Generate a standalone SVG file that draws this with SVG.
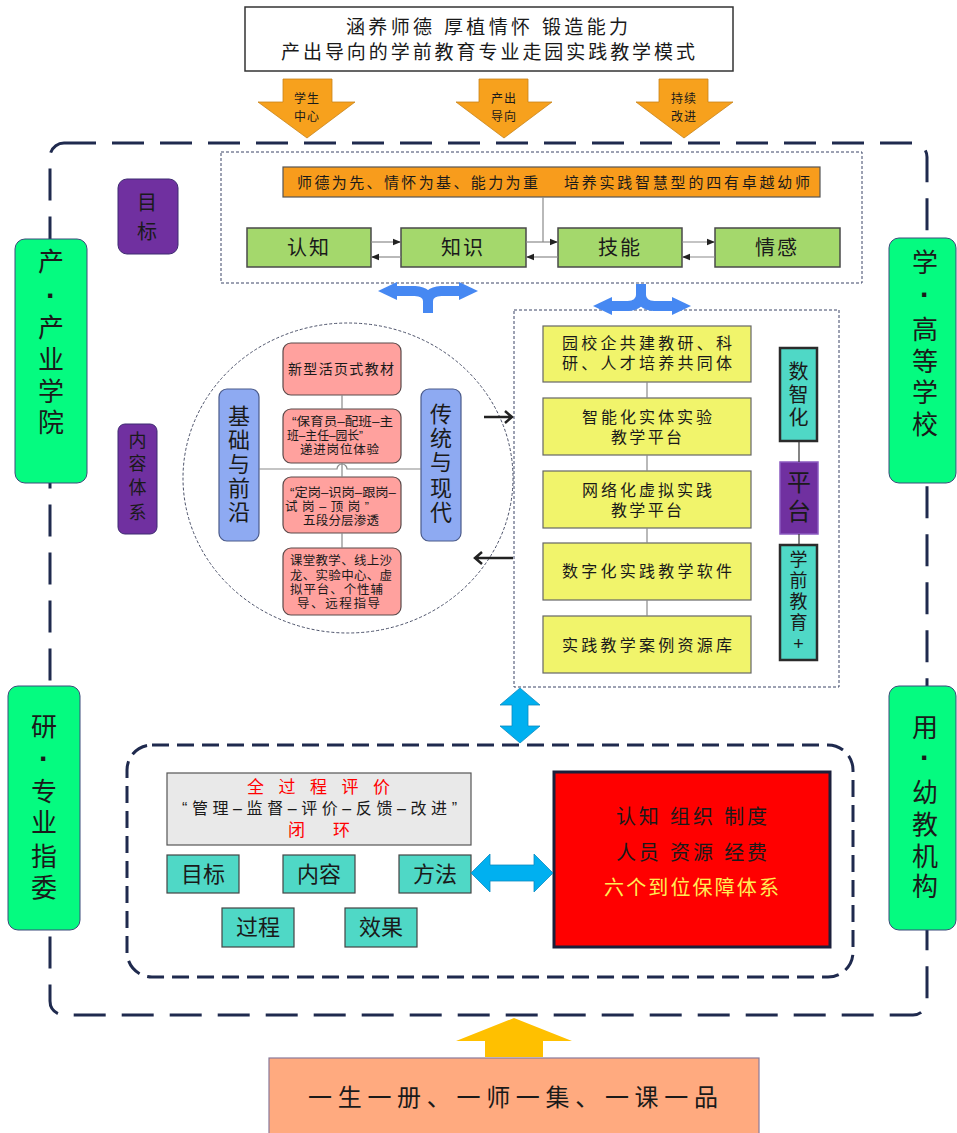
<svg xmlns="http://www.w3.org/2000/svg" width="957" height="1133" viewBox="0 0 957 1133">
<style>
text{font-family:"Liberation Sans","Noto Sans CJK SC",sans-serif;fill:#1a1a1a}
.dot{font-weight:bold;font-size:30px}
.big-dash{fill:none;stroke:#1f2a4e;stroke-width:3}
.fine-dash{fill:none;stroke:#3a4566;stroke-width:1;stroke-dasharray:3 2}
.down{fill:#f7a11d;stroke:#c8841a;stroke-width:0.8}
.green{fill:#a4d86c;stroke:#4a4a4a;stroke-width:1.5}
.pink{fill:#ffa19e;stroke:#5a4a4a;stroke-width:1.2}
.blueb{fill:#8eaaf2;stroke:#4a5a8a;stroke-width:1.2}
.yellow{fill:#f1f46b;stroke:#666;stroke-width:1.2}
.teal{fill:#4fd8c6;stroke:#444;stroke-width:1.2}
.tealb{fill:#4fd8c6;stroke:#2b2b2b;stroke-width:2.5}
.purple{fill:#7030a0;stroke:#3d2a70;stroke-width:1}
.side{fill:#05fb80;stroke:#3b4a7a;stroke-width:1}
.conn{fill:none;stroke:#8a8a8a;stroke-width:1.2}
.yarrow{fill:none;stroke:#4688f2;stroke-width:10}
.yhead{fill:#4688f2}
.cyan{fill:#00b0f0;stroke:#0a8cc0;stroke-width:0.8}
.blk{fill:none;stroke:#222;stroke-width:2.5}
</style>
<defs>
<marker id="ah" viewBox="0 0 10 10" refX="10" refY="5" markerWidth="7" markerHeight="7" orient="auto">
<path d="M0,1 L10,5 L0,9 z" fill="#222"/>
</marker>
</defs>

<!-- title -->
<g id="title">
<rect x="245" y="7" width="488" height="64" fill="#fff" stroke="#333" stroke-width="1.5"/>
<text x="346" y="34" font-size="19" textLength="282" lengthAdjust="spacing">涵养师德 厚植情怀 锻造能力</text>
<text x="281" y="59" font-size="19" textLength="414" lengthAdjust="spacing">产出导向的学前教育专业走园实践教学模式</text>
</g>

<g id="arrow-student">
<polygon class="down" points="283,79 332,79 332,102 355,102 307,138 258,102 283,102"/>
<text x="307" y="103" font-size="12" text-anchor="middle" letter-spacing="1">学生</text>
<text x="307" y="121" font-size="12" text-anchor="middle" letter-spacing="1">中心</text>
</g>
<g id="arrow-output">
<polygon class="down" points="479,79 528,79 528,102 552,102 504,138 456,102 479,102"/>
<text x="504" y="103" font-size="12" text-anchor="middle" letter-spacing="1">产出</text>
<text x="504" y="121" font-size="12" text-anchor="middle" letter-spacing="1">导向</text>
</g>
<g id="arrow-improve">
<polygon class="down" points="659,79 708,79 708,102 733,102 684,138 636,102 659,102"/>
<text x="684" y="103" font-size="12" text-anchor="middle" letter-spacing="1">持续</text>
<text x="684" y="121" font-size="12" text-anchor="middle" letter-spacing="1">改进</text>
</g>

<!-- outer frame -->
<g id="frame">
<rect class="big-dash" x="50" y="143" width="877" height="872" rx="14" stroke-dasharray="32 16"/>
</g>

<!-- side labels -->
<g id="side-chanye">
<rect class="side" x="15" y="239" width="72" height="244" rx="10"/>
<text font-size="26" text-anchor="middle"><tspan x="51" y="271">产</tspan><tspan x="51" y="306" class="dot">·</tspan><tspan x="51" y="337">产</tspan><tspan x="51" y="369">业</tspan><tspan x="51" y="401">学</tspan><tspan x="51" y="432">院</tspan></text>
</g>
<g id="side-yan">
<rect class="side" x="8" y="686" width="72" height="244" rx="10"/>
<text font-size="26" text-anchor="middle"><tspan x="44" y="736">研</tspan><tspan x="44" y="769" class="dot">·</tspan><tspan x="44" y="801">专</tspan><tspan x="44" y="832">业</tspan><tspan x="44" y="866">指</tspan><tspan x="44" y="897">委</tspan></text>
</g>
<g id="side-xue">
<rect class="side" x="889" y="238" width="67" height="245" rx="10"/>
<text font-size="26" text-anchor="middle"><tspan x="925" y="272">学</tspan><tspan x="925" y="305" class="dot">·</tspan><tspan x="925" y="339">高</tspan><tspan x="925" y="371">等</tspan><tspan x="925" y="402">学</tspan><tspan x="925" y="434">校</tspan></text>
</g>
<g id="side-yong">
<rect class="side" x="889" y="686" width="67" height="244" rx="10"/>
<text font-size="26" text-anchor="middle"><tspan x="925" y="737">用</tspan><tspan x="925" y="768" class="dot">·</tspan><tspan x="925" y="802">幼</tspan><tspan x="925" y="834">教</tspan><tspan x="925" y="866">机</tspan><tspan x="925" y="896">构</tspan></text>
</g>

<!-- goal section -->
<g id="goal-label">
<rect class="purple" x="118" y="179" width="60" height="75" rx="9"/>
<text font-size="20" text-anchor="middle"><tspan x="147" y="210">目</tspan><tspan x="147" y="239">标</tspan></text>
</g>
<g id="goal-box">
<rect class="fine-dash" x="221" y="152" width="641" height="131"/>
</g>
<g id="goal-bar">
<rect x="283" y="167" width="537" height="30" fill="#f89c1c" stroke="#555" stroke-width="1.2"/>
<text x="297" y="188" font-size="15" textLength="241" lengthAdjust="spacing">师德为先、情怀为基、能力为重</text>
<text x="564" y="188" font-size="15" textLength="246" lengthAdjust="spacing">培养实践智慧型的四有卓越幼师</text>
</g>
<g id="renzhi"><rect class="green" x="247" y="228" width="124" height="39"/><text x="309" y="255" font-size="20" text-anchor="middle" letter-spacing="2">认知</text></g>
<g id="zhishi"><rect class="green" x="401" y="228" width="125" height="39"/><text x="463" y="255" font-size="20" text-anchor="middle" letter-spacing="2">知识</text></g>
<g id="jineng"><rect class="green" x="558" y="228" width="124" height="39"/><text x="620" y="255" font-size="20" text-anchor="middle" letter-spacing="2">技能</text></g>
<g id="qinggan"><rect class="green" x="715" y="228" width="125" height="39"/><text x="777" y="255" font-size="20" text-anchor="middle" letter-spacing="2">情感</text></g>

<!-- content section -->
<g id="content-label">
<rect class="purple" x="118" y="424" width="39" height="110" rx="7"/>
<text font-size="18" text-anchor="middle"><tspan x="137.5" y="447">内</tspan><tspan x="137.5" y="470">容</tspan><tspan x="137.5" y="494">体</tspan><tspan x="137.5" y="519">系</tspan></text>
</g>
<g id="content-circle">
<ellipse cx="348" cy="478" rx="165" ry="155" fill="none" stroke="#4a5068" stroke-width="1" stroke-dasharray="3 2"/>
</g>
<g id="jichu">
<rect class="blueb" x="219" y="389" width="40" height="152" rx="8"/>
<text font-size="22" text-anchor="middle"><tspan x="239" y="424">基</tspan><tspan x="239" y="448">础</tspan><tspan x="239" y="472">与</tspan><tspan x="239" y="496">前</tspan><tspan x="239" y="520">沿</tspan></text>
</g>
<g id="chuantong">
<rect class="blueb" x="421" y="389" width="40" height="152" rx="8"/>
<text font-size="22" text-anchor="middle"><tspan x="441" y="422">传</tspan><tspan x="441" y="446">统</tspan><tspan x="441" y="470">与</tspan><tspan x="441" y="496">现</tspan><tspan x="441" y="520">代</tspan></text>
</g>
<g id="pink1">
<rect class="pink" x="283" y="343" width="118" height="52" rx="8"/>
<text x="288" y="374" font-size="14" textLength="106" lengthAdjust="spacing">新型活页式教材</text>
</g>
<g id="pink2">
<rect class="pink" x="283" y="409" width="118" height="54" rx="8"/>
<text x="292" y="426" font-size="12.5" textLength="101" lengthAdjust="spacingAndGlyphs">“保育员–配班–主</text>
<text x="287" y="440" font-size="12.5" textLength="76" lengthAdjust="spacingAndGlyphs">班–主任–园长”</text>
<text x="300" y="454" font-size="12.5" textLength="79" lengthAdjust="spacing">递进岗位体验</text>
</g>
<g id="pink3">
<rect class="pink" x="283" y="477" width="118" height="56" rx="8"/>
<text x="290" y="497" font-size="12.5" textLength="106" lengthAdjust="spacingAndGlyphs">“定岗–识岗–跟岗–</text>
<text x="285" y="511" font-size="12.5" textLength="84" lengthAdjust="spacing">试岗–顶岗”</text>
<text x="303" y="525" font-size="12.5" textLength="76" lengthAdjust="spacing">五段分层渗透</text>
</g>
<g id="pink4">
<rect class="pink" x="283" y="548" width="118" height="67" rx="8"/>
<text x="290" y="565" font-size="12.5" textLength="102" lengthAdjust="spacing">课堂教学、线上沙</text>
<text x="290" y="580" font-size="12.5" textLength="102" lengthAdjust="spacing">龙、实验中心、虚</text>
<text x="290" y="594" font-size="12.5" textLength="93" lengthAdjust="spacing">拟平台、个性辅</text>
<text x="297" y="608" font-size="12.5" textLength="83" lengthAdjust="spacing">导、远程指导</text>
</g>

<!-- platform section -->
<g id="platform-box">
<rect class="fine-dash" x="514" y="310" width="325" height="377"/>
</g>
<g id="y1"><rect class="yellow" x="543" y="326" width="208" height="56"/>
<text x="562" y="349" font-size="16" textLength="170" lengthAdjust="spacing">园校企共建教研、科</text>
<text x="562" y="369" font-size="16" textLength="170" lengthAdjust="spacing">研、人才培养共同体</text></g>
<g id="y2"><rect class="yellow" x="543" y="398" width="208" height="57"/>
<text x="582" y="423" font-size="16" textLength="130" lengthAdjust="spacing">智能化实体实验</text>
<text x="611" y="443" font-size="16" textLength="71" lengthAdjust="spacing">教学平台</text></g>
<g id="y3"><rect class="yellow" x="543" y="471" width="208" height="57"/>
<text x="582" y="496" font-size="16" textLength="130" lengthAdjust="spacing">网络化虚拟实践</text>
<text x="611" y="516" font-size="16" textLength="71" lengthAdjust="spacing">教学平台</text></g>
<g id="y4"><rect class="yellow" x="543" y="543" width="208" height="57"/>
<text x="562" y="577" font-size="16" textLength="170" lengthAdjust="spacing">数字化实践教学软件</text></g>
<g id="y5"><rect class="yellow" x="543" y="616" width="208" height="57"/>
<text x="562" y="651" font-size="16" textLength="170" lengthAdjust="spacing">实践教学案例资源库</text></g>
<g id="shuzhihua"><rect class="tealb" x="780" y="348" width="37" height="93"/>
<text font-size="20" text-anchor="middle"><tspan x="798.5" y="379">数</tspan><tspan x="798.5" y="402">智</tspan><tspan x="798.5" y="425">化</tspan></text></g>
<g id="pingtai"><rect x="780" y="462" width="38" height="72" fill="#7030a0" stroke="#8a5ac0" stroke-width="1.5"/>
<text font-size="24" text-anchor="middle"><tspan x="799" y="491">平</tspan><tspan x="799" y="520">台</tspan></text></g>
<g id="xueqian"><rect class="tealb" x="780" y="545" width="37" height="115"/>
<text font-size="18" text-anchor="middle"><tspan x="798.5" y="566">学</tspan><tspan x="798.5" y="587">前</tspan><tspan x="798.5" y="608">教</tspan><tspan x="798.5" y="629">育</tspan><tspan x="798.5" y="650">+</tspan></text></g>

<!-- evaluation section -->
<g id="eval-frame">
<rect class="big-dash" x="127" y="745" width="726" height="232" rx="25" stroke-dasharray="17 8"/>
</g>
<g id="eval-box">
<rect x="167" y="773" width="304" height="72" fill="#e9e9e9" stroke="#555" stroke-width="1.2"/>
<text x="247" y="793" font-size="17" textLength="143" lengthAdjust="spacing" style="fill:#ff0000">全过程评价</text>
<text x="182" y="814" font-size="16" textLength="275" lengthAdjust="spacing">“管理–监督–评价–反馈–改进”</text>
<text x="288" y="836" font-size="17" textLength="62" lengthAdjust="spacing" style="fill:#ff0000">闭环</text>
</g>
<g id="mubiao"><rect class="teal" x="167" y="855" width="72" height="38"/><text x="203" y="882" font-size="22" text-anchor="middle">目标</text></g>
<g id="neirong"><rect class="teal" x="283" y="855" width="72" height="38"/><text x="319" y="882" font-size="22" text-anchor="middle">内容</text></g>
<g id="fangfa"><rect class="teal" x="399" y="855" width="72" height="38"/><text x="435" y="882" font-size="22" text-anchor="middle">方法</text></g>
<g id="guocheng"><rect class="teal" x="222" y="908" width="72" height="39"/><text x="258" y="935" font-size="22" text-anchor="middle">过程</text></g>
<g id="xiaoguo"><rect class="teal" x="345" y="908" width="72" height="39"/><text x="381" y="935" font-size="22" text-anchor="middle">效果</text></g>
<g id="guarantee">
<rect x="554" y="772" width="276" height="175" fill="#ff0000" stroke="#1b1f3b" stroke-width="3"/>
<text x="616" y="824" font-size="20" textLength="151" lengthAdjust="spacing">认知 组织 制度</text>
<text x="616" y="860" font-size="20" textLength="151" lengthAdjust="spacing">人员 资源 经费</text>
<text x="604" y="895" font-size="20" textLength="175" lengthAdjust="spacing" style="fill:#ffee55">六个到位保障体系</text>
</g>

<!-- bottom -->
<g id="bottom-box">
<rect x="269" y="1058" width="490" height="80" fill="#ffaa7f" stroke="#8a7a9a" stroke-width="1.2"/>
<text x="308" y="1106" font-size="24" textLength="410" lengthAdjust="spacing">一生一册、一师一集、一课一品</text>
</g>

<!-- connectors -->
<g id="connectors">
<line class="conn" x1="543" y1="197" x2="543" y2="242"/>
<line class="conn" x1="371" y1="242" x2="401" y2="242" marker-end="url(#ah)"/>
<line class="conn" x1="401" y1="257" x2="371" y2="257" marker-end="url(#ah)"/>
<line class="conn" x1="526" y1="242" x2="558" y2="242" marker-end="url(#ah)"/>
<line class="conn" x1="558" y1="257" x2="526" y2="257" marker-end="url(#ah)"/>
<line class="conn" x1="682" y1="242" x2="715" y2="242" marker-end="url(#ah)"/>
<line class="conn" x1="715" y1="257" x2="682" y2="257" marker-end="url(#ah)"/>

<path class="yarrow" d="M428,313 L428,301 Q428,292 415,291 L396,291"/>
<path class="yarrow" d="M428,301 Q428,292 441,291 L460,291"/>
<polygon class="yhead" points="378,291 397,282 397,300"/>
<polygon class="yhead" points="478,291 459,282 459,300"/>
<path class="yarrow" d="M641,284 L641,295 Q641,305 628,306 L611,306"/>
<path class="yarrow" d="M641,295 Q641,305 654,306 L673,306"/>
<polygon class="yhead" points="593,306 612,297 612,315"/>
<polygon class="yhead" points="691,306 672,297 672,315"/>

<line class="conn" x1="342" y1="395" x2="342" y2="409"/>
<line class="conn" x1="342" y1="463" x2="342" y2="477"/>
<line class="conn" x1="342" y1="533" x2="342" y2="548"/>
<path class="conn" d="M259,469 L337,469 A5,5 0 0 1 347,469 L421,469"/>

<path class="blk" d="M484,417 L512,417 M505,411 L512,417 L505,423"/>
<path class="blk" d="M513,558 L475,558 M482,552 L475,558 L482,564"/>

<line class="conn" x1="647" y1="382" x2="647" y2="398"/>
<line class="conn" x1="647" y1="455" x2="647" y2="471"/>
<line class="conn" x1="647" y1="528" x2="647" y2="543"/>
<line class="conn" x1="647" y1="600" x2="647" y2="616"/>
<line x1="799" y1="441" x2="799" y2="462" stroke="#333" stroke-width="1.2"/>
<line x1="799" y1="534" x2="799" y2="545" stroke="#333" stroke-width="1.2"/>

<polygon class="cyan" points="520,688 540,705 528,705 528,726 540,726 520,743 500,726 512,726 512,705 500,705"/>
<polygon class="cyan" points="471,873 490,854 490,865 534,865 534,854 553,873 534,892 534,881 490,881 490,892"/>
<polygon points="514,1018 572,1041 543,1041 543,1057 485,1057 485,1041 456,1041" fill="#ffc000"/>
</g>
</svg>
